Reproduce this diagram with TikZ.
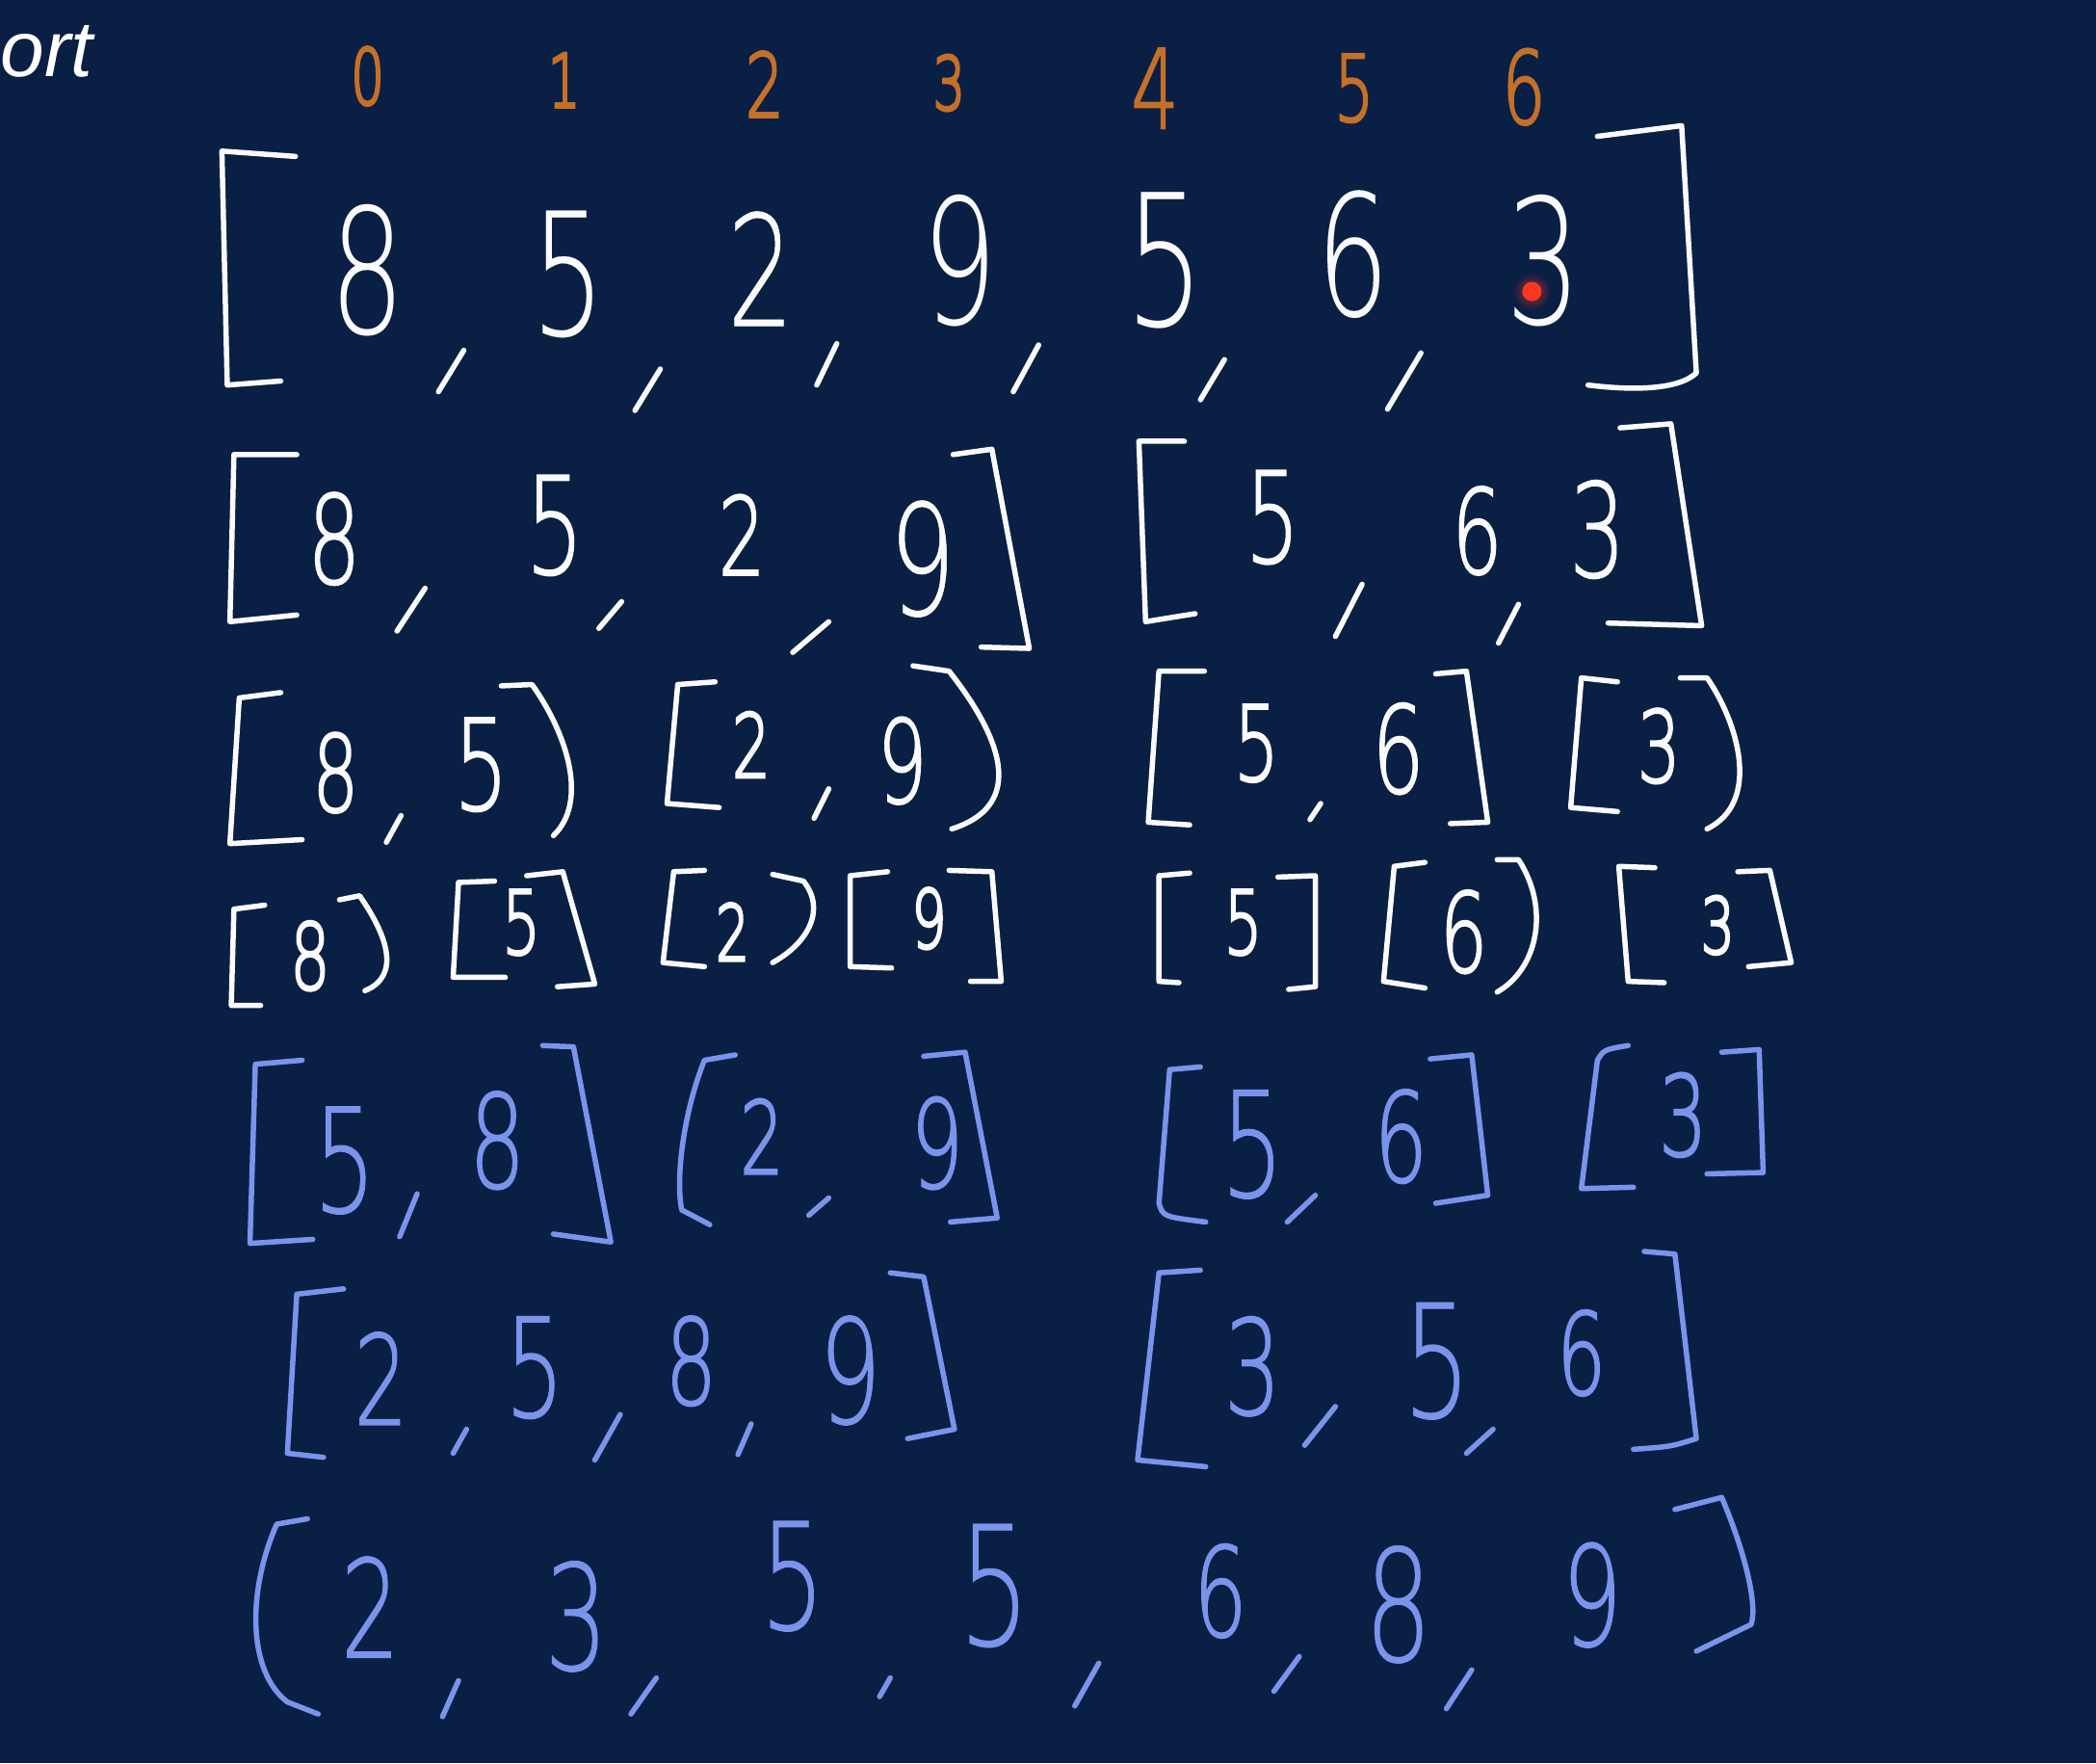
\documentclass[tikz,border=0pt]{standalone}
\usepackage{fontspec}
\setmainfont{Liberation Sans}
\newfontfamily\hand{DejaVuSans-ExtraLight}[Extension=.ttf]
\definecolor{bg}{RGB}{10,31,68}
\definecolor{idx}{RGB}{196,112,40}
\definecolor{ink}{RGB}{250,250,250}
\definecolor{blu}{RGB}{122,148,236}
\definecolor{laser}{RGB}{250,55,30}
\newcommand\Dg[5]{%
  \pgfmathsetmacro\dgfs{#4*1.904}%
  \pgfmathsetmacro\dgk{round(10*max(0,(6.0-0.033*\dgfs)/\dgfs*100))/10}%
  \edef\dgfont{\noexpand\hand\noexpand\addfontfeatures{FakeBold=\dgk}\noexpand\fontsize{\dgfs}{\dgfs}\noexpand\selectfont}%
  \node[dig,font=\dgfont] (#1) at (#2,#3) {#5};}
\begin{document}
\begin{tikzpicture}[x=1.3878pt,y=-1.3878pt,
  stroke/.style={line width=5.5pt,line cap=round,line join=round},
  dig/.style={inner sep=0pt,outer sep=0pt,anchor=center,xscale=0.68}]
\useasboundingbox (0,0) rectangle (1568,1319);
\fill[bg] (0,0) rectangle (1568,1319);
\node[anchor=base east,text=white,font=\itshape\fontsize{82}{90}\selectfont] (title) at (72,57.6) {ort};

% indices
\begin{scope}[color=idx]
\Dg{i0}{275}{57}{42}{0}
\Dg{i1}{422}{60}{40}{1}
\Dg{i2}{572}{63}{48}{2}
\Dg{i3}{710}{62}{40}{3}
\Dg{i4}{864}{66}{60}{4}
\Dg{i5}{1013}{66}{50}{5}
\Dg{i6}{1140}{65}{55}{6}
\end{scope}

\begin{scope}[color=ink]
% row 1
\draw[stroke] (221,117) -- (166,113) -- (170,288) -- (210,285);
\Dg{a1}{275}{202}{95}{8}
\Dg{a2}{425}{205}{93}{5}
\Dg{a3}{569}{201}{84}{2}
\Dg{a4}{718}{195}{95}{9}
\Dg{a5}{872}{195}{100}{5}
\Dg{a6}{1012}{190}{92}{6}
\Dg{a7}{1155}{195}{95}{3}
\draw[stroke] (347,262) -- (328,293);
\draw[stroke] (494,276) -- (475,307);
\draw[stroke] (626,257) -- (611,288);
\draw[stroke] (777,258) -- (758,293);
\draw[stroke] (916,269) -- (898,299);
\draw[stroke] (1063,264) -- (1038,306);
\draw[stroke] (1195,102) -- (1258,94) -- (1269,279) .. controls (1255,292) and (1220,292) .. (1188,288);

% row 2
\draw[stroke] (222,340) -- (175,340) -- (172,465) -- (222,460);
\Dg{b1}{250}{403}{67}{8}
\Dg{b2}{415}{393}{74}{5}
\Dg{b3}{555}{400}{59}{2}
\Dg{b4}{690}{418}{84}{9}
\draw[stroke] (318,440) -- (297,472);
\draw[stroke] (465,450) -- (448,470);
\draw[stroke] (620,465) -- (593,488);
\draw[stroke] (713,340) -- (742,336) -- (770,485) -- (734,484);
\draw[stroke] (886,330) -- (852,330) -- (857,465) -- (894,459);
\Dg{b5}{952}{387}{69}{5}
\Dg{b6}{1105}{397}{64}{6}
\Dg{b7}{1195}{396}{71}{3}
\draw[stroke] (1019,437) -- (999,476);
\draw[stroke] (1136,452) -- (1121,481);
\draw[stroke] (1212,320) -- (1250,317) -- (1273,468) -- (1203,466);

% row 3
\draw[stroke] (210,518) -- (179,522) -- (172,631) -- (226,628);
\Dg{c1}{251}{578}{58}{8}
\draw[stroke] (300,610) -- (289,630);
\Dg{c2}{360}{572}{69}{5}
\draw[stroke] (375,513) -- (398,512) .. controls (425,550) and (440,600) .. (414,625);
\draw[stroke] (535,510) -- (507,512) -- (499,601) -- (538,604);
\Dg{c3}{562}{557}{48}{2}
\draw[stroke] (620,590) -- (609,612);
\Dg{c4}{675}{569}{63}{9}
\draw[stroke] (683,498) -- (710,502) .. controls (740,540) and (775,600) .. (712,620);
\draw[stroke] (901,502) -- (867,502) -- (859,615) -- (890,617);
\Dg{c5}{940}{556}{57}{5}
\draw[stroke] (988,601) -- (980,613);
\Dg{c6}{1046}{560}{66}{6}
\draw[stroke] (1074,504) -- (1097,502) -- (1113,615) -- (1085,616);
\draw[stroke] (1210,510) -- (1183,507) -- (1175,604) -- (1210,607);
\Dg{c7}{1241}{558}{54}{3}
\draw[stroke] (1257,507) -- (1277,507) .. controls (1300,540) and (1318,600) .. (1277,620);

% row 4
\draw[stroke] (198,677) -- (175,680) -- (173,752) -- (195,752);
\Dg{d1}{232}{715}{50}{8}
\draw[stroke] (254,673) -- (269,670) .. controls (290,700) and (300,730) .. (273,741);
\draw[stroke] (370,659) -- (343,660) -- (339,731) -- (378,731);
\Dg{d2}{390}{690}{48}{5}
\draw[stroke] (394,655) -- (421,652) -- (445,736) -- (417,738);
\draw[stroke] (527,651) -- (504,652) -- (496,720) -- (527,723);
\Dg{d3}{548}{697}{42}{2}
\draw[stroke] (578,654) -- (601,659) .. controls (618,680) and (605,705) .. (578,720);
\draw[stroke] (664,652) -- (636,655) -- (636,723) -- (667,724);
\Dg{d4}{695}{687}{44}{9}
\draw[stroke] (710,651) -- (742,652) -- (749,734) -- (726,734);
\draw[stroke] (890,653) -- (867,655) -- (867,734) -- (882,735);
\Dg{d5}{930}{690}{48}{5}
\draw[stroke] (956,656) -- (984,655) -- (984,738) -- (964,740);
\draw[stroke] (1066,645) -- (1043,648) -- (1035,734) -- (1066,739);
\Dg{d6}{1095}{697}{60}{6}
\draw[stroke] (1120,643) -- (1136,643) .. controls (1160,680) and (1150,725) .. (1120,742);
\draw[stroke] (1238,649) -- (1211,648) -- (1218,734) -- (1245,735);
\Dg{d7}{1285}{692}{42}{3}
\draw[stroke] (1300,652) -- (1324,651) -- (1340,720) -- (1308,723);
\end{scope}

\begin{scope}[color=blu]
% row 5
\draw[stroke] (226,793) -- (191,796) -- (187,930) -- (234,927);
\Dg{e1}{258}{868}{79}{5}
\draw[stroke] (312,893) -- (299,925);
\Dg{e2}{372}{853}{71}{8}
\draw[stroke] (406,782) -- (429,783) -- (457,929) -- (414,923);
\draw[stroke] (550,789) -- (527,793) .. controls (512,830) and (505,880) .. (510,905) -- (531,916);
\Dg{e3}{570}{850}{55}{2}
\draw[stroke] (620,896) -- (605,909);
\Dg{e4}{701}{855}{67}{9}
\draw[stroke] (691,790) -- (722,787) -- (746,911) -- (711,914);
\draw[stroke] (898,798) -- (875,800) -- (867,900) .. controls (870,910) .. (902,914);
\Dg{e5}{937}{856}{80}{5}
\draw[stroke] (984,894) -- (963,914);
\Dg{e6}{1048}{850}{68}{6}
\draw[stroke] (1070,792) -- (1101,789) -- (1113,894) -- (1074,900);
\draw[stroke] (1218,782) .. controls (1200,785) .. (1195,793) -- (1183,889) -- (1222,888);
\Dg{e7}{1259}{834}{61}{3}
\draw[stroke] (1288,787) -- (1316,785) -- (1319,877) -- (1277,878);

% row 6
\draw[stroke] (257,964) -- (222,968) -- (215,1087) -- (242,1090);
\Dg{f1}{285}{1031}{68}{2}
\draw[stroke] (349,1069) -- (339,1087);
\Dg{f2}{400}{1023}{75}{5}
\draw[stroke] (464,1058) -- (445,1092);
\Dg{f3}{517}{1018}{65}{8}
\draw[stroke] (562,1065) -- (552,1088);
\Dg{f4}{636}{1025}{79}{9}
\draw[stroke] (666,952) -- (691,955) -- (714,1069) -- (679,1076);
\draw[stroke] (898,950) -- (867,952) -- (851,1092) -- (902,1097);
\Dg{f5}{937}{1022}{72}{3}
\draw[stroke] (999,1052) -- (976,1081);
\Dg{f6}{1075}{1018}{86}{5}
\draw[stroke] (1117,1069) -- (1097,1087);
\Dg{f7}{1183}{1012}{62}{6}
\draw[stroke] (1230,936) -- (1253,938) -- (1269,1076) .. controls (1250,1082) .. (1222,1084);

% row 7
\draw[stroke] (230,1136) -- (207,1140) .. controls (185,1190) and (185,1250) .. (215,1273) -- (238,1282);
\Dg{g1}{277}{1202}{74}{2}
\draw[stroke] (343,1257) -- (331,1284);
\Dg{g2}{431}{1209}{80}{3}
\draw[stroke] (491,1255) -- (472,1282);
\Dg{g3}{593}{1179}{81}{5}
\draw[stroke] (666,1255) -- (658,1269);
\Dg{g4}{744}{1186}{91}{5}
\draw[stroke] (822,1244) -- (804,1276);
\Dg{g5}{913}{1190}{68}{6}
\draw[stroke] (972,1239) -- (953,1265);
\Dg{g6}{1046}{1200}{85}{8}
\draw[stroke] (1101,1249) -- (1082,1278);
\Dg{g7}{1191}{1193}{76}{9}
\draw[stroke] (1253,1129) -- (1288,1120) .. controls (1305,1160) and (1315,1200) .. (1310,1215) -- (1269,1235);
\end{scope}

% laser pointer
\shade[inner color=laser!75!bg, outer color=bg, opacity=0.8] (1146,218) circle (20pt);
\fill[laser] (1146,218) circle (10pt);
\end{tikzpicture}
\end{document}
